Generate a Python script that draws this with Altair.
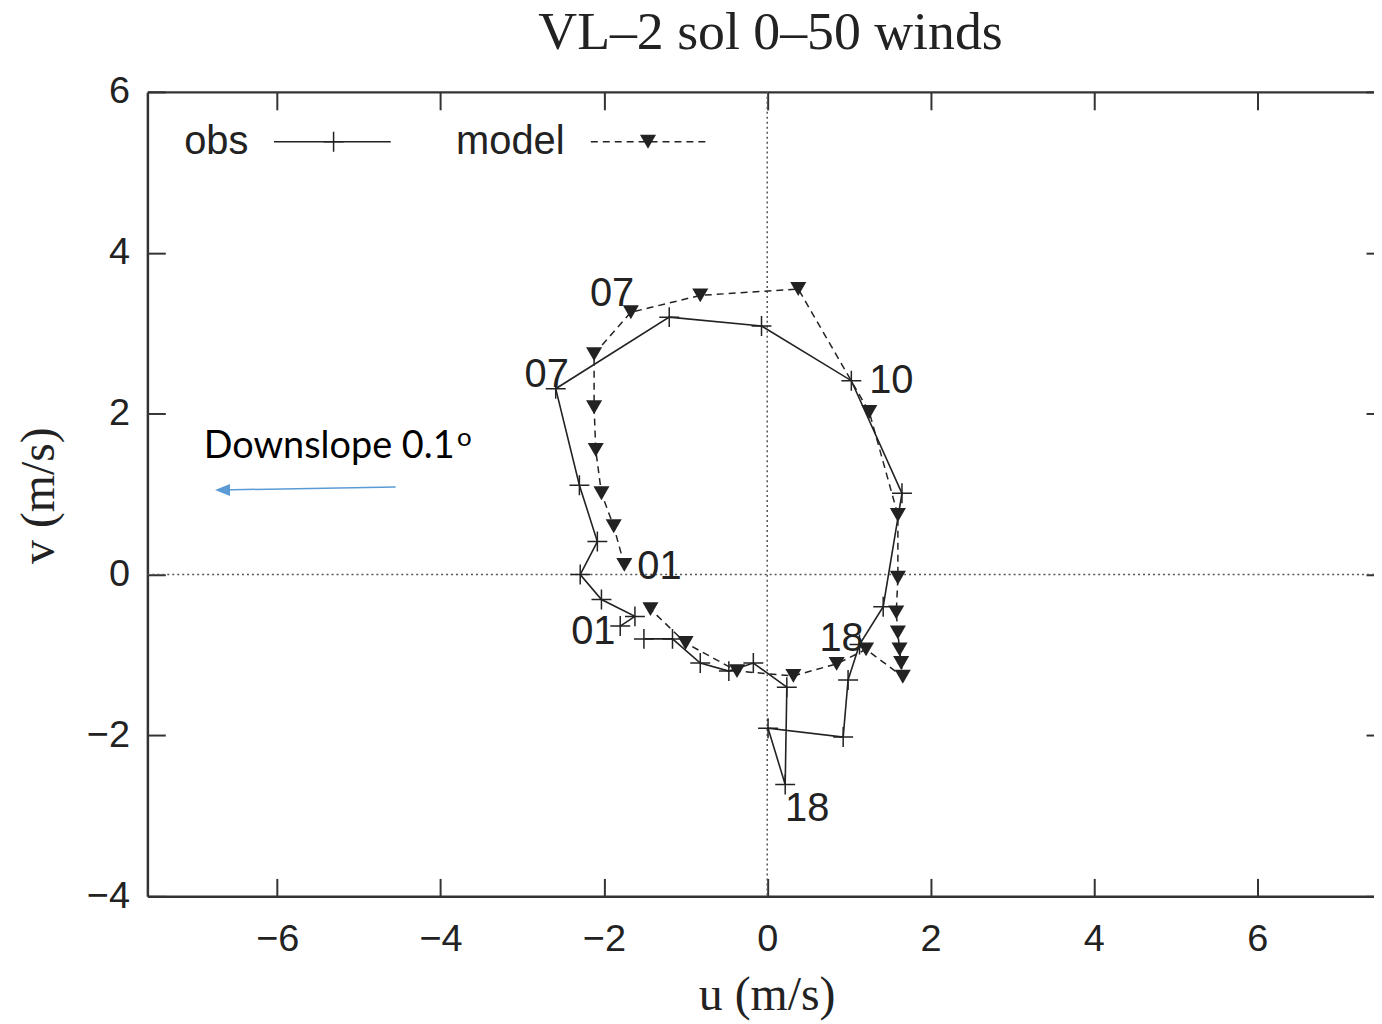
import altair as alt
import pandas as pd

# ---------------- data ----------------
obs_u = [-1.80, -1.62, -2.03, -2.29, -2.08, -2.30, -2.59, -1.20, -0.07, 1.03, 1.65, 1.42,
         1.13, 0.99, 0.93, 0.01, 0.22, 0.24, -0.17, -0.47, -0.82, -1.16, -1.51]
obs_v = [-0.64, -0.52, -0.31, 0.00, 0.41, 1.11, 2.31, 3.20, 3.09, 2.41, 1.01, -0.40,
         -0.87, -1.31, -2.02, -1.91, -2.61, -1.40, -1.10, -1.20, -1.10, -0.80, -0.80]

model_u = [-1.75, -1.88, -2.03, -2.10, -2.12, -2.12, -1.67, -0.82, 0.38, 1.25, 1.60, 1.60,
           1.58, 1.60, 1.62, 1.64, 1.66, 1.21, 0.85, 0.32, -0.37, -1.00, -1.43]
model_v = [0.12, 0.60, 1.01, 1.55, 2.08, 2.74, 3.26, 3.47, 3.55, 2.02, 0.74, -0.04,
           -0.47, -0.72, -0.93, -1.10, -1.27, -0.93, -1.11, -1.26, -1.20, -0.85, -0.43]

# hour labels
label_text = ["07", "07", "10", "01", "01", "18", "18"]
label_u = [-1.90, -2.70, 1.52, -1.32, -2.13, 0.91, 0.49]
label_v = [3.49, 2.48, 2.40, 0.09, -0.71, -0.80, -2.92]

# legend (placed in data space)
legend_labels = ["obs", "model"]
legend_text_u = [-7.14, -3.81]
legend_v = 5.38
legend_obs_line_u = [-6.04, -4.61]
legend_obs_mark_u = [-5.31]
legend_model_line_u = [-2.16, -0.74]
legend_model_mark_u = [-1.46]

# annotation
note_text = ["Downslope 0.1"]
note_u = [-6.90]
note_v = [1.448]
sup_text = ["o"]
sup_u = [-3.71]
sup_v = [1.70]
arrow_u = [-4.55, -6.67]
arrow_v = [1.089, 1.052]

x_ticks = [-6, -4, -2, 0, 2, 4, 6]
y_ticks = [-4, -2, 0, 2, 4, 6]

title_text = ["VL\u20132 sol 0\u201350 winds"]
title_u = [0.04]
title_v = [6.53]
x_title = "u (m/s)"
y_title = "v (m/s)"

# ---------------- styling ----------------
INK = "#222222"
FRAME = "#333333"
BLUE = "#5B9BD5"
PLUS = "M-1,0L1,0M0,-1L0,1"
ARROW = "M-1,0L1,-0.8L1,0.8Z"

xs = alt.Scale(domain=[-7.59, 7.43], nice=False, zero=False)
ys = alt.Scale(domain=[-4, 6], nice=False, zero=False)

ax_x_main = alt.Axis(orient="bottom", values=x_ticks, ticks=False, tickSize=0, grid=False,
                     domain=True, domainColor=FRAME, domainWidth=2.5,
                     labelFont="Liberation Sans", labelFontSize=38, labelColor=INK,
                     labelPadding=24, labelFlush=False, labelOverlap=False,
                     title=x_title, titleFont="Liberation Serif", titleFontSize=48,
                     titleFontWeight="normal", titleColor=INK, titleX=622, titleY=100,
                     titleBaseline="middle", titleAlign="center")
ax_y_main = alt.Axis(orient="left", values=y_ticks, ticks=False, tickSize=0, grid=False,
                     domain=True, domainColor=FRAME, domainWidth=2.5,
                     labelFont="Liberation Sans", labelFontSize=38, labelColor=INK,
                     labelPadding=18, labelFlush=False, labelOverlap=False,
                     title=y_title, titleFont="Liberation Serif", titleFontSize=48,
                     titleFontWeight="normal", titleColor=INK, titleX=-108, titleY=405,
                     titleAngle=270, titleBaseline="middle", titleAlign="center")
ax_x_ticks = alt.Axis(orient="bottom", values=x_ticks, ticks=True, tickSize=18, tickWidth=2,
                      tickColor=FRAME, offset=-18, domain=False, labels=False, grid=False, title=None)
ax_y_ticks = alt.Axis(orient="left", values=y_ticks, ticks=True, tickSize=18, tickWidth=2,
                      tickColor=FRAME, offset=-18, domain=False, labels=False, grid=False, title=None)
ax_x_top = alt.Axis(orient="top", values=x_ticks, ticks=False, domain=True, domainColor=FRAME,
                    domainWidth=2.5, labels=False, grid=False, title=None)
ax_y_right = alt.Axis(orient="right", values=y_ticks, ticks=True, tickSize=8, tickWidth=2,
                      tickColor=FRAME, offset=-8, domain=False, labels=False, grid=False, title=None)
ax_x_topticks = alt.Axis(orient="top", values=x_ticks, ticks=True, tickSize=18, tickWidth=2,
                         tickColor=FRAME, offset=-18, domain=False, labels=False, grid=False, title=None)


def X(ax=None):
    return alt.X("u:Q", scale=xs, axis=ax)


def Y(ax=None):
    return alt.Y("v:Q", scale=ys, axis=ax)


obs_df = pd.DataFrame({"u": obs_u, "v": obs_v, "idx": list(range(len(obs_u)))})
model_df = pd.DataFrame({"u": model_u, "v": model_v, "idx": list(range(len(model_u)))})
label_df = pd.DataFrame({"label": label_text, "u": label_u, "v": label_v})
zero_df = pd.DataFrame({"zero": [0]})

zero_h = alt.Chart(zero_df).mark_rule(color="#555555", strokeWidth=1.5, strokeDash=[2, 3]).encode(
    y=alt.Y("zero:Q", scale=ys, axis=None))
zero_v = alt.Chart(zero_df).mark_rule(color="#555555", strokeWidth=1.5, strokeDash=[2, 3]).encode(
    x=alt.X("zero:Q", scale=xs, axis=None))

obs_line = alt.Chart(obs_df).mark_line(color=INK, strokeWidth=1.6).encode(
    x=X(ax_x_main), y=Y(ax_y_main), order="idx:Q")
obs_pts = alt.Chart(obs_df).mark_point(shape=PLUS, filled=False, size=400, color=INK,
                                       strokeWidth=1.5, opacity=1).encode(
    x=X(ax_x_ticks), y=Y(ax_y_ticks))
model_line = alt.Chart(model_df).mark_line(color=INK, strokeWidth=1.5, strokeDash=[7, 5]).encode(
    x=X(ax_x_top), y=Y(ax_y_right), order="idx:Q")
model_pts = alt.Chart(model_df).mark_point(shape="triangle-down", filled=True, size=260,
                                           color=INK, opacity=1).encode(
    x=X(ax_x_topticks), y=Y(None))

labels = alt.Chart(label_df).mark_text(font="Liberation Sans", fontSize=40, color=INK,
                                       align="center", baseline="middle").encode(
    x=X(), y=Y(), text="label:N")

leg_text = alt.Chart(pd.DataFrame({"label": legend_labels, "u": legend_text_u,
                                   "v": [legend_v] * len(legend_labels)})).mark_text(
    font="Liberation Sans", fontSize=40, color=INK, align="left", baseline="middle").encode(
    x=X(), y=Y(), text="label:N")
leg_obs_line = alt.Chart(pd.DataFrame({"u": legend_obs_line_u, "v": [legend_v] * 2})).mark_line(
    color=INK, strokeWidth=1.6).encode(x=X(), y=Y())
leg_obs_mark = alt.Chart(pd.DataFrame({"u": legend_obs_mark_u, "v": [legend_v]})).mark_point(
    shape=PLUS, filled=False, size=400, color=INK, strokeWidth=1.5, opacity=1).encode(x=X(), y=Y())
leg_model_line = alt.Chart(pd.DataFrame({"u": legend_model_line_u, "v": [legend_v] * 2})).mark_line(
    color=INK, strokeWidth=1.5, strokeDash=[7, 5]).encode(x=X(), y=Y())
leg_model_mark = alt.Chart(pd.DataFrame({"u": legend_model_mark_u, "v": [legend_v]})).mark_point(
    shape="triangle-down", filled=True, size=260, color=INK, opacity=1).encode(x=X(), y=Y())

note = alt.Chart(pd.DataFrame({"t": note_text, "u": note_u, "v": note_v})).mark_text(
    font="Lato", fontSize=38, color="black", align="left", baseline="alphabetic").encode(
    x=X(), y=Y(), text="t:N")
sup = alt.Chart(pd.DataFrame({"t": sup_text, "u": sup_u, "v": sup_v})).mark_text(
    font="Lato", fontSize=26, color="black", align="center", baseline="middle").encode(
    x=X(), y=Y(), text="t:N")
arrow_line = alt.Chart(pd.DataFrame({"u": arrow_u, "v": arrow_v})).mark_line(
    color=BLUE, strokeWidth=1.5).encode(x=X(), y=Y())
arrow_head = alt.Chart(pd.DataFrame({"u": arrow_u[-1:], "v": arrow_v[-1:]})).mark_point(
    shape=ARROW, filled=True, size=225, color=BLUE, opacity=1).encode(x=X(), y=Y())

title = alt.Chart(pd.DataFrame({"t": title_text, "u": title_u, "v": title_v})).mark_text(
    font="Liberation Serif", fontSize=54, color=INK, align="center", baseline="alphabetic",
    clip=False).encode(x=X(), y=Y(), text="t:N")

chart = alt.layer(
    zero_h, zero_v, obs_line, obs_pts, model_line, model_pts, labels,
    leg_text, leg_obs_line, leg_obs_mark, leg_model_line, leg_model_mark,
    arrow_line, arrow_head, note, sup, title
).resolve_axis(x="independent", y="independent").properties(
    width=1232, height=808,
    padding={"left": 140, "top": 82, "right": 0, "bottom": 134},
    autosize=alt.AutoSizeParams(type="none"),
).configure_view(stroke=None)

chart.save("out.html", embed_options={"renderer": "svg", "actions": False})
